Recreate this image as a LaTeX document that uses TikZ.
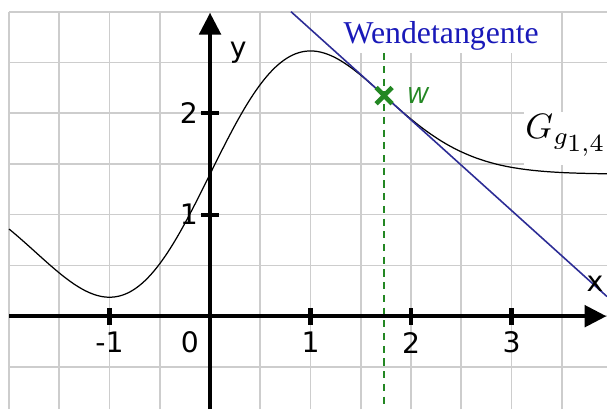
\documentclass[tikz,border=0pt]{standalone}
\usepackage{fontspec}
\setsansfont{DejaVu Sans}
\newfontfamily\tangfont{Liberation Serif}
\usetikzlibrary{arrows.meta, positioning}
\definecolor{cGrid}{RGB}{205,205,205}
\definecolor{cTang}{RGB}{45,45,150}
\definecolor{cTangText}{RGB}{25,25,185}
\definecolor{cWend}{RGB}{35,135,35}

\begin{document}
\begin{tikzpicture}[x=1cm, y=1.01cm, >={Triangle[length=6.2pt, width=6pt]}, font=\sffamily\fontsize{8}{9}\selectfont]

% ------------------- Stile -------------------
\tikzstyle{gridline} = [draw=cGrid, line width=0.45pt]
\tikzstyle{axis} = [->, line width=1.3pt]
\tikzstyle{tick} = [line width=1.2pt]
\tikzstyle{graph} = [black, line width=0.35pt]
\tikzstyle{tangent} = [cTang, line width=0.45pt]
\tikzstyle{wdash} = [cWend, line width=0.45pt, dash pattern=on 2pt off 1.6pt]
\tikzstyle{wcross} = [cWend, line width=1.3pt]
\tikzstyle{whitelabel} = [fill=white, inner sep=0pt]

\useasboundingbox (-2.09,-0.915) rectangle (3.95,3.115);

% ------------------- Gitter -------------------
\draw[gridline] (-2,-0.915) grid[step=0.5] (3.95,3);

% ------------------- Punkte -------------------
\coordinate (xL) at (-2,0);
\coordinate (xR) at (3.945,0);
\coordinate (yB) at (0,-0.915);
\coordinate (yT) at (0,2.99);
\coordinate (W) at ({sqrt(3)},{1.4+2*sqrt(3)*exp(-1.5)});
\coordinate (tA) at ({sqrt(3)-(1.6-2*sqrt(3)*exp(-1.5))/(4*exp(-1.5))},3);
\coordinate (tB) at (3.95,{1.4+2*sqrt(3)*exp(-1.5)-4*exp(-1.5)*(3.95-sqrt(3))});

% ------------------- Beschriftungen mit weissem Grund -------------------
\node[whitelabel, minimum width=2.02cm, minimum height=0.39cm, text height=5.8pt, text depth=0pt,
      font=\tangfont\fontsize{9}{10}\selectfont, text=cTangText] (tlab) at (2.30,2.79) {Wendetangente};
\node[whitelabel, minimum width=0.84cm, minimum height=0.53cm, text height=4pt, text depth=4pt,
      font=\fontsize{10}{12}\selectfont] (glab) at (3.545,1.747) {$G_{g_{\scriptstyle 1,4}}$};

% ------------------- Wendestelle -------------------
\draw[wdash] (W |- tlab.south) -- (W |- yB);

% ------------------- Graph und Tangente -------------------
\draw[graph] plot[domain=-2:3.95, samples=120, smooth] (\x,{1.4+2*\x*exp(-\x*\x/2)});
\draw[tangent] (tA) -- (tB);

% ------------------- Achsen -------------------
\draw[axis] (xL) -- (xR);
\draw[axis] (yB) -- (yT);
\foreach \k in {-1,1,2,3} \draw[tick] (\k,-0.085) -- (\k,0.085);
\foreach \k in {1,2} \draw[tick] (-0.09,\k) -- (0.09,\k);

\foreach \k in {-1,1,2,3} \node (xnum\k) at (\k,-0.26) {\k};
\node (xnum0) at (-0.2,-0.26) {0};
\foreach \k in {1,2} \node (ynum\k) at (-0.21,\k) {\k};
\node[anchor=base] (ylab) at (0.28,2.55) {y};
\node[anchor=base] (xlab) at (3.83,0.24) {x};

% ------------------- Wendepunkt W -------------------
\draw[wcross] (W) ++(-0.08,-0.08) -- ++(0.16,0.16) (W) ++(-0.08,0.08) -- ++(0.16,-0.16);
\node[right=3pt of W, text=cWend, font=\sffamily\itshape\fontsize{6.2}{7}\selectfont] (wlab) {W};

\end{tikzpicture}
\end{document}
